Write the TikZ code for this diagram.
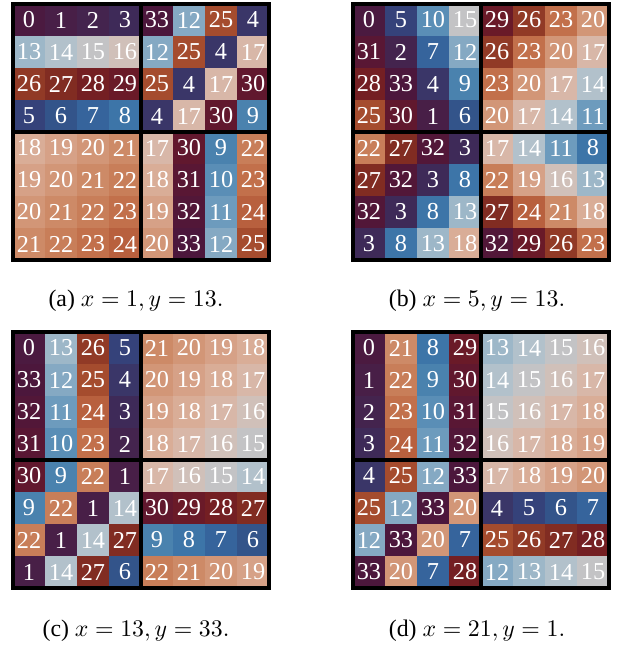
\documentclass[tikz,border=0pt]{standalone}
\usepackage[no-math]{fontspec}
\setmainfont{Liberation Serif}
\usepackage{xcolor}
\usepackage{tikz}

% cyclic colour scale, one colour per cell value
\definecolor{tw0}{HTML}{4B1A40}\definecolor{tw1}{HTML}{481F47}
\definecolor{tw2}{HTML}{44244E}\definecolor{tw3}{HTML}{3E2A58}
\definecolor{tw4}{HTML}{3A3668}\definecolor{tw5}{HTML}{35427A}
\definecolor{tw6}{HTML}{33548A}\definecolor{tw7}{HTML}{36649C}
\definecolor{tw8}{HTML}{3D75A8}\definecolor{tw9}{HTML}{4A82AE}
\definecolor{tw10}{HTML}{5A8EB6}\definecolor{tw11}{HTML}{6D9BBD}
\definecolor{tw12}{HTML}{85A9C3}\definecolor{tw13}{HTML}{9DB7C8}
\definecolor{tw14}{HTML}{B2C1CB}\definecolor{tw15}{HTML}{C3C3C5}
\definecolor{tw16}{HTML}{D0C0B9}\definecolor{tw17}{HTML}{D8B7A8}
\definecolor{tw18}{HTML}{D9AD97}\definecolor{tw19}{HTML}{D6A187}
\definecolor{tw20}{HTML}{D29677}\definecolor{tw21}{HTML}{CD8A67}
\definecolor{tw22}{HTML}{C87E59}\definecolor{tw23}{HTML}{C2704B}
\definecolor{tw24}{HTML}{B8603E}\definecolor{tw25}{HTML}{A54C2E}
\definecolor{tw26}{HTML}{913A26}\definecolor{tw27}{HTML}{812C22}
\definecolor{tw28}{HTML}{741F23}\definecolor{tw29}{HTML}{6A1A28}
\definecolor{tw30}{HTML}{61182E}\definecolor{tw31}{HTML}{591734}
\definecolor{tw32}{HTML}{521738}\definecolor{tw33}{HTML}{4C173C}

% one 8x8 panel: name, left, top, rows
\newcommand{\heatgrid}[4]{%
    \foreach \rowvals [count=\ri from 0] in {#4}{
        \foreach \v [count=\ci from 0] in \rowvals{
            \node[cell,fill=tw\v] (#1-\ri-\ci) at ({#2+16+32*\ci},{#3+16+32*\ri}) {\v};
        }
    }
    \foreach \qx in {0,128}{
        \foreach \qy in {0,128}{
            \draw[quad] ({#2+\qx},{#3+\qy}) rectangle ++(128,128);
        }
    }
}

\begin{document}
\begin{tikzpicture}[
    x=0.42pt, y=-0.42pt,
    cell/.style={minimum size=13.44pt,inner sep=0pt,outer sep=0pt,
        text=white,font=\fontsize{10.2}{11}\selectfont},
    quad/.style={draw=black,line width=1.6pt},
    caption/.style={anchor=base,inner sep=0pt,text=black,font=\normalsize},
]
    \path[use as bounding box] (0,0) rectangle (623,645);

    \heatgrid{a}{13}{4}{
        {0,1,2,3,33,12,25,4},{13,14,15,16,12,25,4,17},
        {26,27,28,29,25,4,17,30},{5,6,7,8,4,17,30,9},
        {18,19,20,21,17,30,9,22},{19,20,21,22,18,31,10,23},
        {20,21,22,23,19,32,11,24},{21,22,23,24,20,33,12,25}}
    \heatgrid{b}{353}{4}{
        {0,5,10,15,29,26,23,20},{31,2,7,12,26,23,20,17},
        {28,33,4,9,23,20,17,14},{25,30,1,6,20,17,14,11},
        {22,27,32,3,17,14,11,8},{27,32,3,8,22,19,16,13},
        {32,3,8,13,27,24,21,18},{3,8,13,18,32,29,26,23}}
    \heatgrid{c}{13}{332}{
        {0,13,26,5,21,20,19,18},{33,12,25,4,20,19,18,17},
        {32,11,24,3,19,18,17,16},{31,10,23,2,18,17,16,15},
        {30,9,22,1,17,16,15,14},{9,22,1,14,30,29,28,27},
        {22,1,14,27,9,8,7,6},{1,14,27,6,22,21,20,19}}
    \heatgrid{d}{353}{332}{
        {0,21,8,29,13,14,15,16},{1,22,9,30,14,15,16,17},
        {2,23,10,31,15,16,17,18},{3,24,11,32,16,17,18,19},
        {4,25,12,33,17,18,19,20},{25,12,33,20,4,5,6,7},
        {12,33,20,7,25,26,27,28},{33,20,7,28,12,13,14,15}}

    \node[caption] (cap-a) at (136,306) {(a) $x=1, y=13.$};
    \node[caption] (cap-b) at (477,306) {(b) $x=5, y=13.$};
    \node[caption] (cap-c) at (136,636) {(c) $x=13, y=33.$};
    \node[caption] (cap-d) at (477,636) {(d) $x=21, y=1.$};
\end{tikzpicture}
\end{document}
